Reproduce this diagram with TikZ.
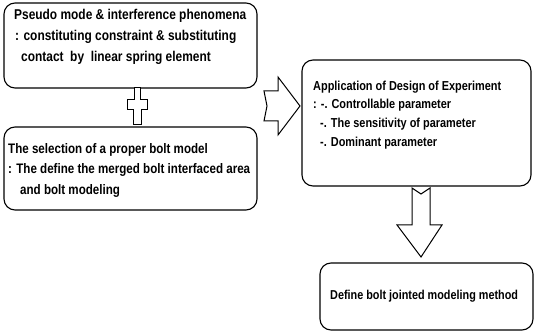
\documentclass[tikz,border=0pt]{standalone}
\usepackage{fontspec}
\setmainfont{Liberation Sans}[FakeStretch=0.84]
\begin{document}
\begin{tikzpicture}[x=1pt,y=-1pt,
  box/.style={draw=black,line width=1.1pt,rounded corners=11pt},
  txt/.style={anchor=west,inner sep=0pt,font=\fontsize{14.2}{16}\selectfont\bfseries},
  txtd/.style={anchor=west,inner sep=0pt,font=\fontsize{13.8}{16}\selectfont\bfseries},
  txtb/.style={anchor=west,inner sep=0pt,font=\fontsize{13.0}{16}\selectfont\bfseries},
  txtc/.style={anchor=west,inner sep=0pt,font=\fontsize{12.9}{15}\selectfont\bfseries},
  hollow/.style={draw=black,line width=1pt,fill=white,line join=miter}]
\useasboundingbox (0,0) rectangle (536,334);
% boxes
\draw[box] (4,3) rectangle (257,88);
\node[inner sep=0pt] (b1) at (130.5,45.5) {};
\draw[box] (4,127) rectangle (257,210);
\node[inner sep=0pt] (b2) at (130.5,168.5) {};
\draw[box] (302,60) rectangle (531,186);
\node[inner sep=0pt] (b3) at (416.5,123) {};
\draw[box] (320,263) rectangle (533,330);
\node[inner sep=0pt] (b4) at (426.5,296.5) {};
% texts
\node[txt] (t11) at (14,16) {Pseudo mode \& interference phenomena};
\node[txt] (t12) at (15,37) {: constituting constraint \& substituting};
\node[txt] (t13) at (21,58) {contact\ \ by\ \ linear spring element};
\node[txtd] (t21) at (8,150) {The selection of a proper bolt model};
\node[txtd] (t22) at (8,170) {: The define the merged bolt interfaced area};
\node[txtd] (t23) at (20,191) {and bolt modeling};
\node[txtb] (t31) at (313,87) {Application of Design of Experiment};
\node[txtb] (t32) at (313,105) {: -. Controllable parameter};
\node[txtb] (t33) at (320,124) {-. The sensitivity of parameter};
\node[txtb] (t34) at (320,143) {-. Dominant parameter};
\node[txtc] (t41) at (330,296) {Define bolt jointed modeling method};
% small cross arrow between box 1 and 2
\coordinate (c1) at (137,88);
\coordinate (c2) at (137,125);
\draw[hollow] ([xshift=-3pt]c1) -- ++(0,12) -- ++(-7,0) -- ++(0,10) -- ++(6,0) -- ([xshift=-4pt]c2)
  -- ([xshift=4pt]c2) -- ++(0,-15) -- ++(6,0) -- ++(0,-10) -- ++(-7,0) -- ([xshift=3pt]c1) -- cycle;
% big right arrow
\coordinate (r1) at (264,106);
\coordinate (r2) at (300,106);
\draw[hollow] ([yshift=15pt]r1) -- ([xshift=-22pt,yshift=15pt]r2) -- ([xshift=-22pt,yshift=29pt]r2)
  -- (r2) -- ([xshift=-22pt,yshift=-29pt]r2) -- ([xshift=-22pt,yshift=-15pt]r2)
  -- ([yshift=-15pt]r1) -- ([xshift=3pt]r1) -- cycle;
% down arrow
\coordinate (d1) at (421,188);
\coordinate (d2) at (421,257);
\draw[hollow] ([xshift=-9pt]d1) -- ([yshift=-6pt]d1) -- ([xshift=9pt]d1) -- ([xshift=9pt,yshift=-37pt]d1)
  -- ([xshift=21pt,yshift=-37pt]d1) -- (d2) -- ([xshift=-24pt,yshift=-37pt]d1) -- ([xshift=-9pt,yshift=-37pt]d1) -- cycle;
\end{tikzpicture}
\end{document}
